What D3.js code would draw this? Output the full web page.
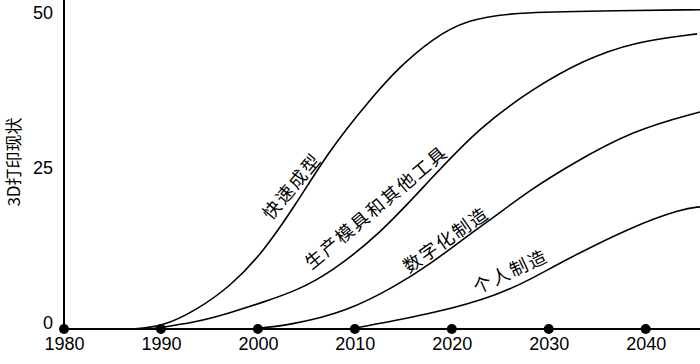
<!DOCTYPE html>
<html>
<head>
<meta charset="utf-8">
<script src="https://cdn.jsdelivr.net/npm/d3@7"></script>
<style>
  body { margin: 0; background: #fff; }
  .tick text { font-family: "Liberation Sans", Arial, sans-serif; font-size: 18px; fill: #000; }
  .curve-label { font-family: "Noto Sans CJK SC", sans-serif; font-size: 18px; fill: #000; letter-spacing: 2px; }
</style>
</head>
<body>
<div id="chart"></div>
<script>
// tick values
const xTicks = [1980, 1990, 2000, 2010, 2020, 2030, 2040]
const yTicks = [0, 25, 50]

// the four adoption curves, [year, value]
const rapidProto = [[1986.8, 0], [1990.1, 0.3], [1993.7, 3.1], [1997.1, 6.8], [2000.5, 12.3], [2004.0, 20.3],
  [2007.4, 28.9], [2011.5, 36.9], [2014.6, 42.3], [2018.0, 46.8], [2021.5, 49.9], [2026.7, 51.1],
  [2035.3, 51.3], [2045.6, 51.5]]
const toolsMolds = [[1988.9, 0], [1993.7, 1.1], [1997.1, 2.6], [2000.5, 4.3], [2004.0, 6.2], [2007.4, 9.0],
  [2012.6, 15.3], [2017.7, 24.0], [2022.9, 32.6], [2028.4, 38.8], [2033.5, 43.3], [2038.7, 46.3],
  [2045.3, 47.6]]
const digitalMfg = [[1999.2, 0], [2003.3, 0.6], [2009.2, 2.8], [2014.3, 7.0], [2017.7, 10.4], [2021.1, 14.4],
  [2024.9, 18.7], [2028.0, 22.3], [2031.9, 26.2], [2038.7, 32.1], [2045.6, 35.0]]
const personalMfg = [[2009.5, 0], [2018.8, 2.7], [2024.9, 5.6], [2028.0, 7.9], [2031.9, 11.3], [2038.7, 16.6],
  [2043.8, 19.4], [2045.6, 19.7]]

const curveNames = ["快速成型", "生产模具和其他工具", "数字化制造", "个人制造"]
const yTitle = "3D打印现状"

const width = 700, height = 364

const svg = d3.select("#chart").append("svg")
  .attr("width", width)
  .attr("height", height)

const x = d3.scaleLinear().domain([1980, 2045.6]).range([64, 700])
const y = d3.scaleLinear().domain([0, 50]).range([329, 19])

// axes
const xAxis = svg.append("g")
  .attr("transform", "translate(0," + y(0) + ")")
  .call(d3.axisBottom(x).tickValues(xTicks).tickSize(0).tickPadding(8).tickFormat(d3.format("d")))
xAxis.select(".domain").remove()

const yAxis = svg.append("g")
  .attr("transform", "translate(" + x(1980) + ",0)")
  .call(d3.axisLeft(y).tickValues(yTicks).tickSize(0).tickPadding(11))
yAxis.select(".domain").remove()
yAxis.selectAll("text").attr("dy", null).attr("y", -1)

svg.append("line")
  .attr("x1", x(1980)).attr("x2", x(1980))
  .attr("y1", 0).attr("y2", y(0))
  .attr("stroke", "#000").attr("stroke-width", 2)

svg.append("line")
  .attr("x1", x(1980)).attr("x2", width)
  .attr("y1", y(0)).attr("y2", y(0))
  .attr("stroke", "#000").attr("stroke-width", 2)

// curves
const line = d3.line()
  .x(d => x(d[0]))
  .y(d => y(d[1]))
  .curve(d3.curveBasis)

const series = [rapidProto, toolsMolds, digitalMfg, personalMfg]

svg.selectAll(".curve")
  .data(series)
  .enter()
  .append("path")
  .attr("class", "curve")
  .attr("d", line)
  .attr("fill", "none")
  .attr("stroke", "#000")
  .attr("stroke-width", 1.6)

// dots on the year ticks
svg.selectAll(".dot")
  .data(xTicks)
  .enter()
  .append("circle")
  .attr("class", "dot")
  .attr("cx", d => x(d))
  .attr("cy", y(0))
  .attr("r", 5)
  .attr("fill", "#000")

// labels along the curves (anchor in chart units, angle in degrees)
const labelSpots = [
  { year: 2003.4, value: 23.2, angle: -50 },
  { year: 2012.1, value: 19.8, angle: -40 },
  { year: 2019.3, value: 14.6, angle: -35 },
  { year: 2026.0, value: 9.5, angle: -25 }
]

svg.selectAll(".curve-label")
  .data(curveNames)
  .enter()
  .append("text")
  .attr("class", "curve-label")
  .attr("text-anchor", "middle")
  .attr("dominant-baseline", "central")
  .attr("transform", (d, i) => {
    const s = labelSpots[i]
    return "translate(" + x(s.year) + "," + y(s.value) + ") rotate(" + s.angle + ")"
  })
  .text(d => d)

// y title
svg.append("text")
  .attr("transform", "translate(12," + 162 + ") rotate(-90)")
  .attr("text-anchor", "middle")
  .attr("dominant-baseline", "central")
  .style("font-family", "\"Noto Sans CJK SC\", sans-serif")
  .style("font-size", "17px")
  .text(yTitle)
</script>
</body>
</html>
